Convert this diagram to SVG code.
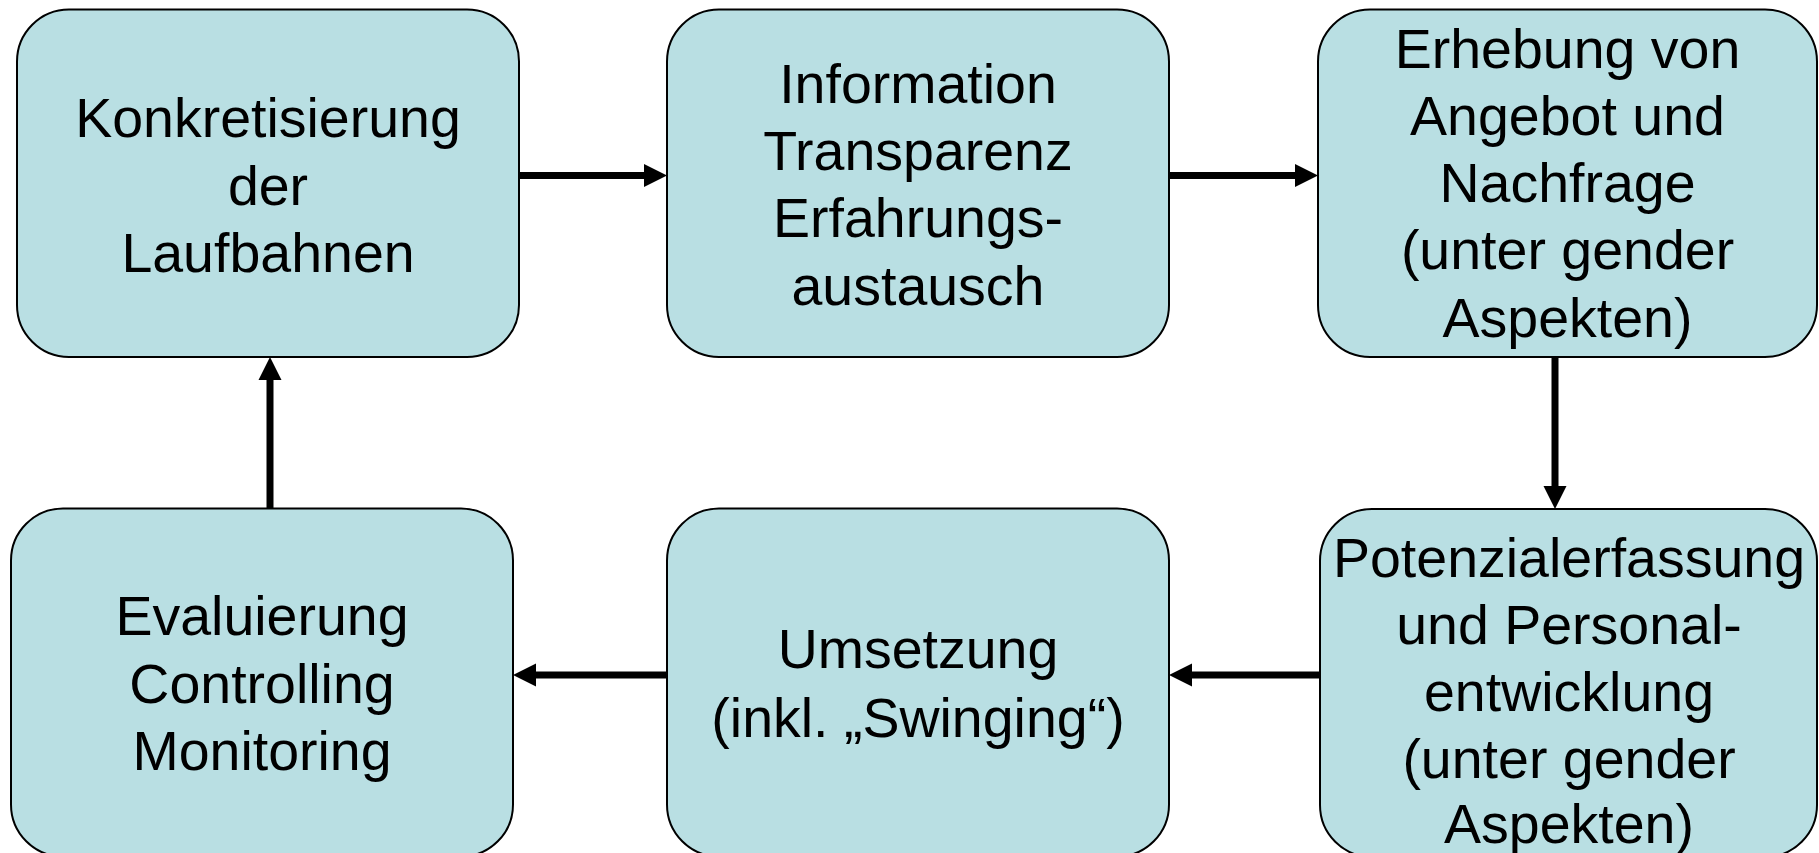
<svg xmlns="http://www.w3.org/2000/svg" width="1819" height="853" viewBox="0 0 1819 853">
  <style>
    .box { fill: #b9dfe3; stroke: #000; stroke-width: 2; }
    .lbl { font-family: "Liberation Sans", Arial, sans-serif; font-size: 55.5px; fill: #000; text-anchor: middle; }
    .conn { stroke: #000; stroke-width: 7; fill: none; marker-end: url(#head); }
  </style>
  <defs>
    <marker id="head" markerUnits="userSpaceOnUse" markerWidth="24" markerHeight="24" refX="0" refY="11.5" orient="auto" viewBox="0 0 24 23">
      <path d="M0,0 L23,11.5 L0,23 Z" fill="#000"/>
    </marker>
  </defs>
  <rect width="1819" height="853" fill="#fff"/>

  <!-- flow arrows between the process steps -->
  <g id="connectors">
    <line class="conn" x1="519" y1="175.5" x2="644" y2="175.5"/>
    <line class="conn" x1="1169" y1="175.5" x2="1295" y2="175.5"/>
    <line class="conn" x1="1555" y1="357" x2="1555" y2="486"/>
    <line class="conn" x1="1320" y1="675" x2="1192" y2="675"/>
    <line class="conn" x1="667" y1="675" x2="536" y2="675"/>
    <line class="conn" x1="270" y1="508" x2="270" y2="380"/>
  </g>

  <g id="konkretisierung">
    <rect class="box" x="17" y="9.5" width="502" height="347.5" rx="52" ry="52"/>
    <text class="lbl" x="268" y="137">Konkretisierung</text>
    <text class="lbl" x="268" y="204.5">der</text>
    <text class="lbl" x="268" y="272">Laufbahnen</text>
  </g>

  <g id="information">
    <rect class="box" x="667" y="9.5" width="502" height="347.5" rx="52" ry="52"/>
    <text class="lbl" x="918" y="103">Information</text>
    <text class="lbl" x="918" y="170">Transparenz</text>
    <text class="lbl" x="918" y="237">Erfahrungs-</text>
    <text class="lbl" x="918" y="305">austausch</text>
  </g>

  <g id="erhebung">
    <rect class="box" x="1318" y="9.5" width="499" height="347.5" rx="52" ry="52"/>
    <text class="lbl" x="1567.5" y="68">Erhebung von</text>
    <text class="lbl" x="1567.5" y="135">Angebot und</text>
    <text class="lbl" x="1567.5" y="202">Nachfrage</text>
    <text class="lbl" x="1567.5" y="269">(unter gender</text>
    <text class="lbl" x="1567.5" y="337">Aspekten)</text>
  </g>

  <g id="potenzialerfassung">
    <rect class="box" x="1320" y="509" width="497" height="348" rx="52" ry="52"/>
    <text class="lbl" x="1569" y="577">Potenzialerfassung</text>
    <text class="lbl" x="1569" y="644">und Personal-</text>
    <text class="lbl" x="1569" y="711">entwicklung</text>
    <text class="lbl" x="1569" y="778">(unter gender</text>
    <text class="lbl" x="1569" y="843">Aspekten)</text>
  </g>

  <g id="umsetzung">
    <rect class="box" x="667" y="508.5" width="502" height="348" rx="52" ry="52"/>
    <text class="lbl" x="918" y="668">Umsetzung</text>
    <text class="lbl" x="918" y="737">(inkl. „Swinging“)</text>
  </g>

  <g id="evaluierung">
    <rect class="box" x="11" y="508.5" width="502" height="348" rx="52" ry="52"/>
    <text class="lbl" x="262" y="635">Evaluierung</text>
    <text class="lbl" x="262" y="703">Controlling</text>
    <text class="lbl" x="262" y="770">Monitoring</text>
  </g>
</svg>
